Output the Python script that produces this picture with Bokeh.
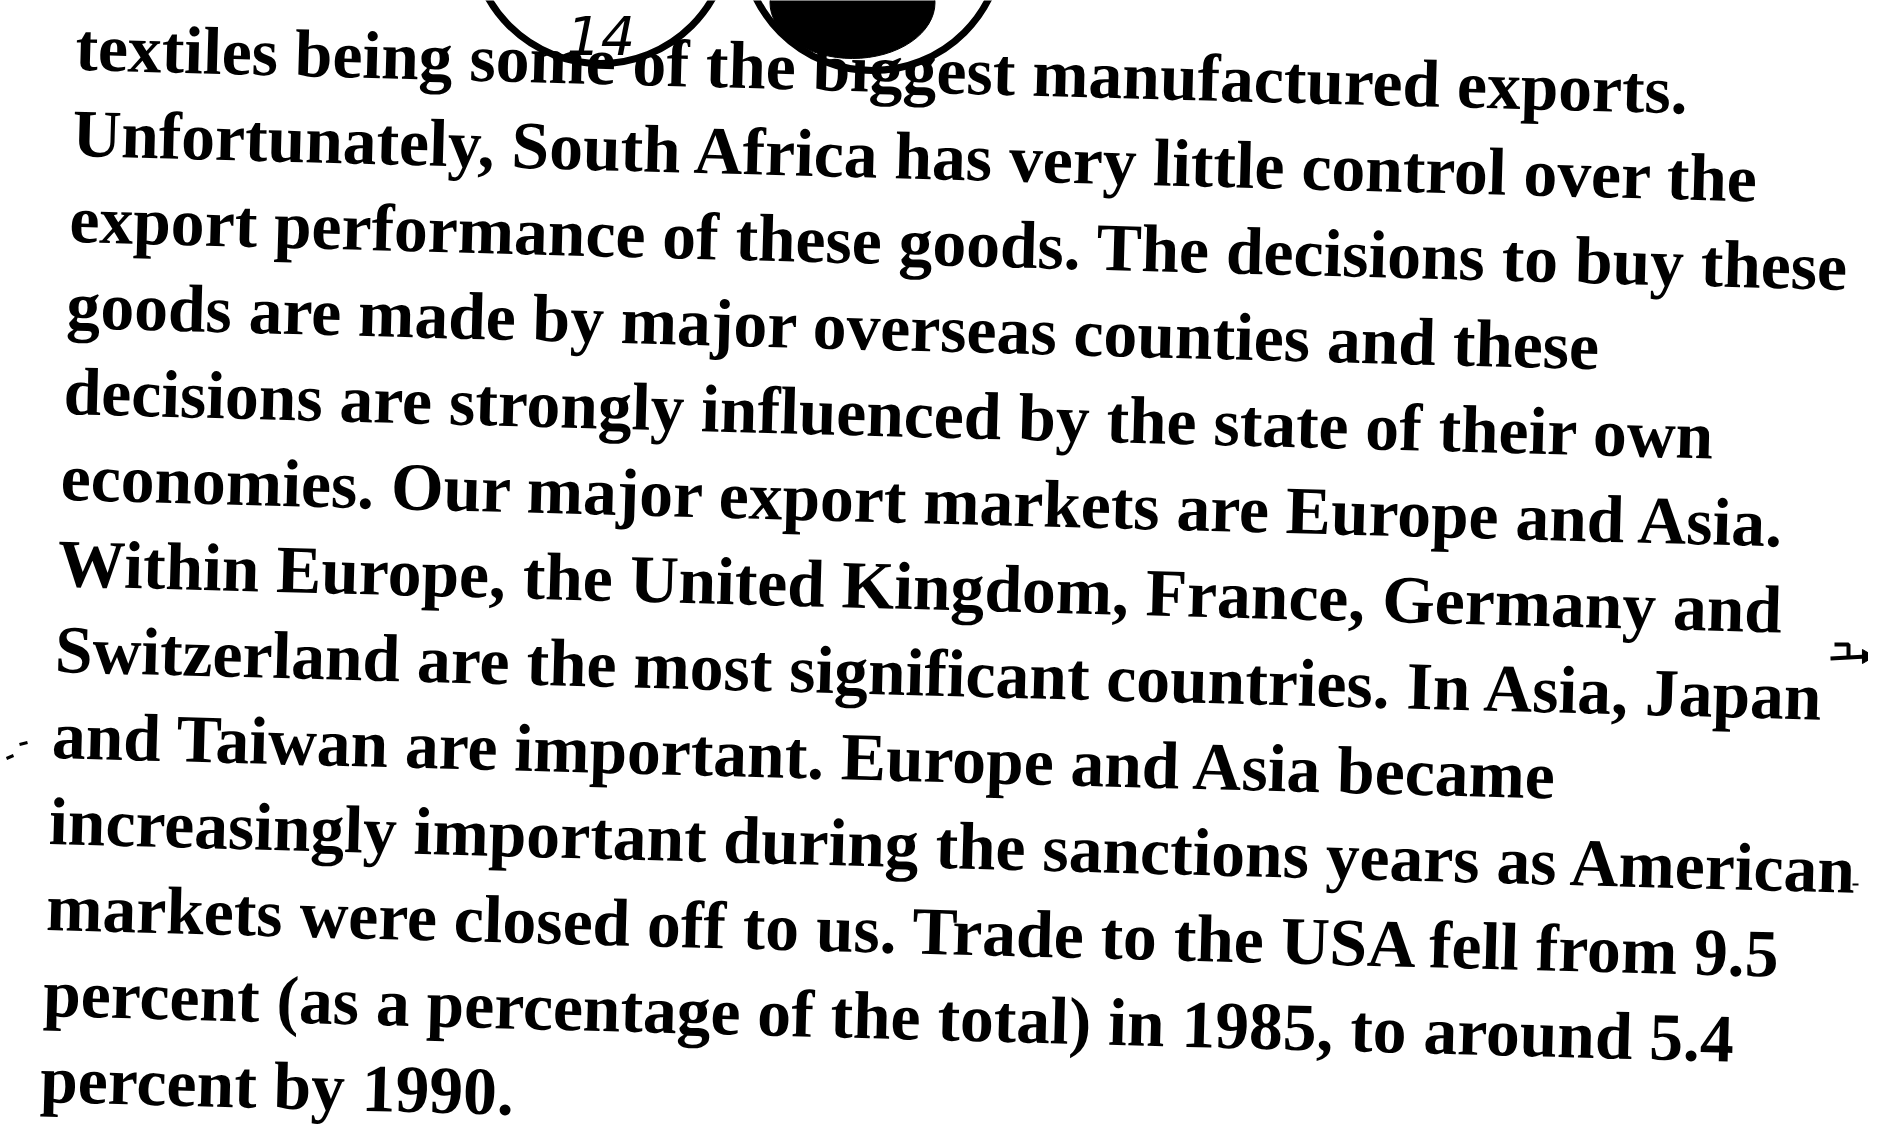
from bokeh.plotting import figure
from bokeh.models import Range1d, ColumnDataSource
from bokeh.core.properties import value
from bokeh.embed import file_html
from bokeh.resources import INLINE

# ---- content ----
lines = [
    "textiles being some of the biggest manufactured exports.",
    "Unfortunately, South Africa has very little control over the",
    "export performance of these goods. The decisions to buy these",
    "goods are made by major overseas counties and these",
    "decisions are strongly influenced by the state of their own",
    "economies. Our major export markets are Europe and Asia.",
    "Within Europe, the United Kingdom, France, Germany and",
    "Switzerland are the most significant countries. In Asia, Japan",
    "and Taiwan are important. Europe and Asia became",
    "increasingly important during the sanctions years as American",
    "markets were closed off to us. Trade to the USA fell from 9.5",
    "percent (as a percentage of the total) in 1985, to around 5.4",
    "percent by 1990.",
]
page_number = "14"

# ---- layout (screen-like coordinates of the full page) ----
W, H = 1868, 1124
BASE_FIX = 21.0        # compensates the renderer's baseline offset
FIRST_BASE = 76.0 - BASE_FIX
PITCH = 86.0
LEFT0 = 83.0
LEFT_SHIFT = 0.034     # left margin drifts left as we go down (scan skew)
SKEW = -0.027          # text baseline slope (radians)
FONT_PX = "67.6px"

p = figure(width=W, height=H, output_backend="svg", toolbar_location=None,
           x_range=Range1d(8, 8 + W), y_range=Range1d(8 + H, 8),
           min_border=0, background_fill_color="white",
           border_fill_color="white", outline_line_color=None)
p.axis.visible = False
p.grid.visible = False

ys = [FIRST_BASE + PITCH * i for i in range(len(lines))]
xs = [LEFT0 - LEFT_SHIFT * (y - FIRST_BASE) for y in ys]
src = ColumnDataSource(dict(x=xs, y=ys, t=lines, a=[SKEW] * len(lines)))
p.text(x="x", y="y", text="t", angle="a", source=src,
       text_font=value("Liberation Serif"), text_font_size=FONT_PX,
       text_font_style="bold",
       text_color="black", text_baseline="alphabetic", text_align="left")

# handwritten page-number circles at the top
p.circle(x=[608], y=[-58], radius=129, fill_alpha=0, line_color="black", line_width=7)
p.circle(x=[880], y=[-52], radius=130, fill_alpha=0, line_color="black", line_width=7)
p.ellipse(x=[860], y=[10], width=165, height=112, fill_color="black", line_color="black")
p.text(x=[574], y=[64 - BASE_FIX], text=[page_number], text_font=value("DejaVu Sans"),
       text_font_size="54px", text_font_style="italic", text_color="black",
       text_baseline="alphabetic")

# small handwritten marks in the margin
p.line(x=[1842, 1856, 1856], y=[652, 652, 664], line_color="black", line_width=4)
p.segment(x0=[1838], y0=[666], x1=[1874], y1=[664], line_color="black", line_width=4)
p.scatter(x=[1874], y=[664], marker="triangle", size=14, angle=-1.5708,
          fill_color="black", line_color="black")
p.segment(x0=[14], y0=[766], x1=[21], y1=[763], line_color="black", line_width=3)
p.segment(x0=[27], y0=[752], x1=[35], y1=[750], line_color="black", line_width=3)
p.segment(x0=[1860], y0=[892], x1=[1866], y1=[892], line_color="black", line_width=2)

open("out.html", "w").write(file_html(p, INLINE))
